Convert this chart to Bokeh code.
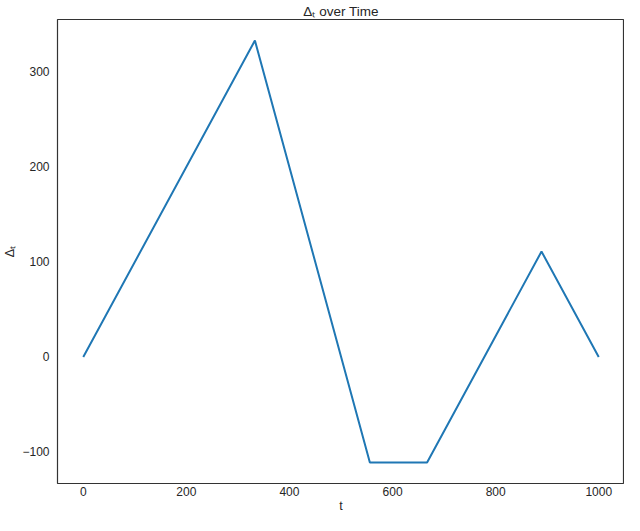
from bokeh.plotting import figure
from bokeh.models import Range1d, FixedTicker
from bokeh.embed import file_html
from bokeh.resources import INLINE

# Data
t_values = [0, 333, 556, 667, 889, 1000]
delta_values = [0, 333, -111, -111, 111, 0]

x_ticks = [0, 200, 400, 600, 800, 1000]
x_tick_labels = ["0", "200", "400", "600", "800", "1000"]
y_ticks = [-100, 0, 100, 200, 300]
y_tick_labels = ["\u2212100", "0", "100", "200", "300"]

title_text = "\u0394\u209c over Time"
x_label = "t"
y_label = "\u0394\u209c"

FONT = "Liberation Sans"
TXT = "#262626"

p = figure(width=624, height=515, output_backend="svg", toolbar_location=None,
           x_range=Range1d(-50, 1050), y_range=Range1d(-133.2, 355.2),
           min_border_left=0, min_border_right=0, min_border_top=0, min_border_bottom=0)

p.title.text = title_text
p.title.align = "center"
p.title.text_font = FONT
p.title.text_font_size = "13.5px"
p.title.text_font_style = "normal"
p.title.text_color = TXT
p.title.standoff = 2
p.title.offset = 0

p.line(t_values, delta_values, line_color="#1f77b4", line_width=2)

p.xgrid.visible = False
p.ygrid.visible = False
p.outline_line_color = "#333333"
p.outline_line_width = 1.2
p.background_fill_color = "white"
p.border_fill_color = "white"

p.xaxis.ticker = FixedTicker(ticks=x_ticks)
p.xaxis.major_label_overrides = {k: v for k, v in zip(x_ticks, x_tick_labels)}
p.yaxis.ticker = FixedTicker(ticks=y_ticks)
p.yaxis.major_label_overrides = {k: v for k, v in zip(y_ticks, y_tick_labels)}

for ax in (p.xaxis, p.yaxis):
    ax.axis_line_color = None
    ax.major_tick_line_color = None
    ax.minor_tick_line_color = None
    ax.major_tick_out = 0
    ax.major_tick_in = 0
    ax.minor_tick_out = 0
    ax.major_label_text_font = FONT
    ax.major_label_text_font_size = "12px"
    ax.major_label_text_color = TXT
    ax.axis_label_text_font = FONT
    ax.axis_label_text_font_size = "12.5px"
    ax.axis_label_text_font_style = "normal"
    ax.axis_label_text_color = TXT

p.xaxis.axis_label = x_label
p.xaxis.major_label_standoff = 3
p.xaxis.axis_label_standoff = 0
p.yaxis.axis_label = y_label
p.yaxis.major_label_standoff = 8
p.yaxis.axis_label_standoff = 2

open("out.html", "w").write(file_html(p, INLINE))
